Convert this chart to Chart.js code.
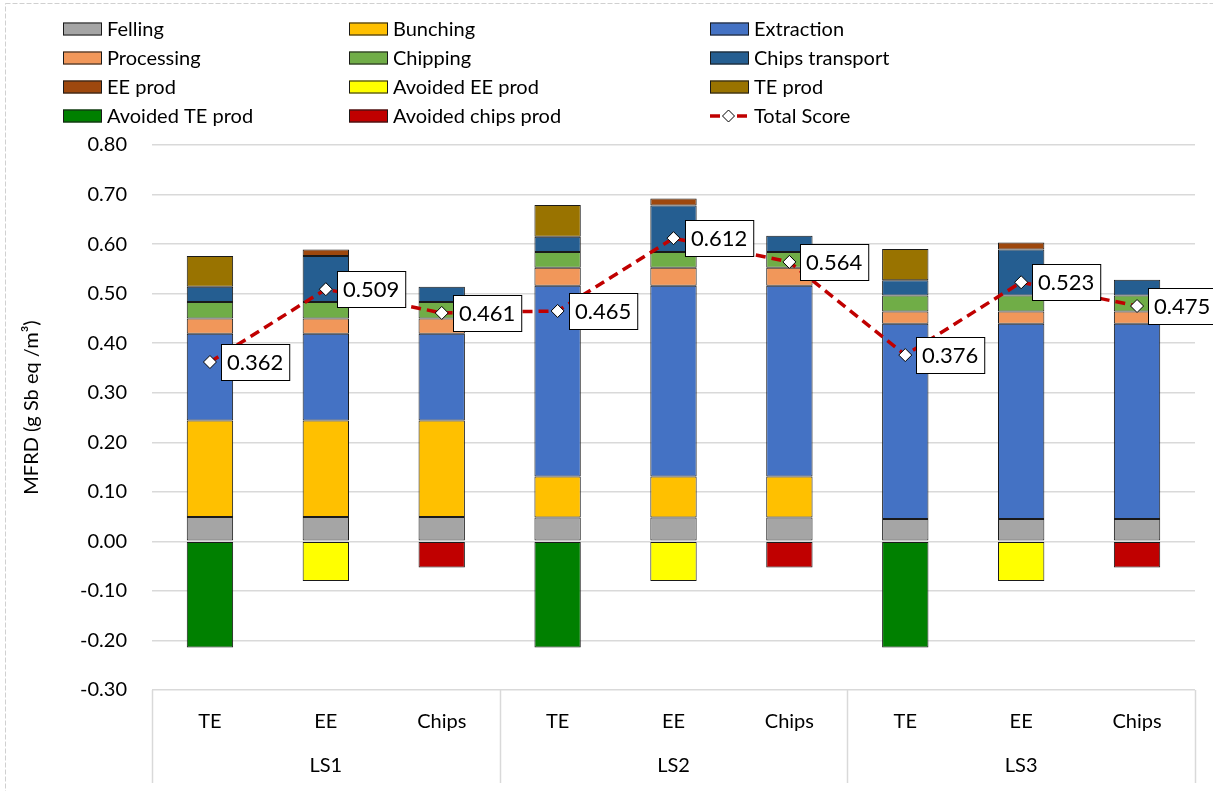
<!DOCTYPE html>
<html><head><meta charset="utf-8">
<script src="https://cdn.jsdelivr.net/npm/chart.js@4.4.1/dist/chart.umd.min.js"></script>
<style>html,body{margin:0;padding:0;background:#fff;}#wrap{width:1213px;height:791px;position:relative;}</style>
</head><body><div id="wrap"><canvas id="c" width="1213" height="791"></canvas></div>
<script>
const categories = ['TE','EE','Chips','TE','EE','Chips','TE','EE','Chips'];
const groups = ['LS1','LS2','LS3'];
const felling        = [0.049,0.049,0.049,0.048,0.048,0.048,0.045,0.045,0.045];
const bunching       = [0.195,0.195,0.195,0.083,0.083,0.083,null,null,null];
const extraction     = [0.175,0.175,0.175,0.385,0.385,0.385,0.394,0.394,0.394];
const processing     = [0.031,0.031,0.031,0.036,0.036,0.036,0.025,0.025,0.025];
const chipping       = [0.033,0.033,0.033,0.032,0.032,0.032,0.032,0.032,0.032];
const chipsTransport = [0.031,0.093,0.031,0.031,0.094,0.033,0.031,0.093,0.032];
const eeProd         = [null,0.013,null,null,0.014,null,null,0.014,null];
const avoidedEEProd  = [null,-0.080,null,null,-0.080,null,null,-0.080,null];
const teProd         = [0.062,null,null,0.064,null,null,0.063,null,null];
const avoidedTEProd  = [-0.214,null,null,-0.214,null,null,-0.214,null,null];
const avoidedChips   = [null,null,-0.053,null,null,-0.053,null,null,-0.053];
const totalScore     = [0.362,0.509,0.461,0.465,0.612,0.564,0.376,0.523,0.475];
const yMin = -0.3, yMax = 0.8, yStep = 0.1;

const FONT = 'Lato';
const bar = (label, data, color) => ({type:'bar', label, data, backgroundColor:color, borderColor:'#1a1a1a', borderWidth:1, borderSkipped:false, order:1, barPercentage:0.4, categoryPercentage:1});

const datasets = [
  bar('Felling', felling, '#A5A5A5'),
  bar('Bunching', bunching, '#FFC000'),
  bar('Extraction', extraction, '#4472C4'),
  bar('Processing', processing, '#F1975A'),
  bar('Chipping', chipping, '#70AD47'),
  bar('Chips transport', chipsTransport, '#255E91'),
  bar('EE prod', eeProd, '#9E480E'),
  bar('Avoided EE prod', avoidedEEProd, '#FFFF00'),
  bar('TE prod', teProd, '#997300'),
  bar('Avoided TE prod', avoidedTEProd, '#008000'),
  bar('Avoided chips prod', avoidedChips, '#C00000'),
  {type:'line', label:'Total Score', data: totalScore, stack:'total', order:0,
   borderColor:'#C00000', borderWidth:3.5, borderDash:[10,6], fill:false, tension:0,
   pointStyle:'rectRot', pointRadius:6.5, pointHoverRadius:6.5, pointBackgroundColor:'#fff', pointBorderColor:'#000', pointBorderWidth:1}
];

const frame = {
  id:'frame',
  beforeDraw(chart){
    const ctx = chart.ctx;
    ctx.save();
    ctx.strokeStyle = '#D0D0D0'; ctx.lineWidth = 1; ctx.setLineDash([5,2]);
    ctx.strokeRect(5.5, 3.5, 1220, 800);
    ctx.restore();
  }
};

const separators = {
  id:'separators',
  afterDraw(chart){
    const xs = chart.scales.x, ctx = chart.ctx, ca = chart.chartArea;
    const half = (xs.getPixelForValue(1) - xs.getPixelForValue(0)) / 2;
    ctx.save();
    ctx.strokeStyle = '#D9D9D9'; ctx.lineWidth = 1.5;
    for (let k = 0; k <= groups.length; k++) {
      const px = k < groups.length ? xs.getPixelForValue(k*3) - half : xs.getPixelForValue(categories.length-1) + half;
      ctx.beginPath(); ctx.moveTo(Math.round(px)+0.5, ca.bottom); ctx.lineTo(Math.round(px)+0.5, 783); ctx.stroke();
    }
    ctx.restore();
  }
};

const valueLabels = {
  id:'valueLabels',
  afterDatasetsDraw(chart){
    const idx = chart.data.datasets.findIndex(d => d.type === 'line');
    const meta = chart.getDatasetMeta(idx);
    const ctx = chart.ctx;
    ctx.save();
    ctx.font = '22px ' + FONT;
    ctx.textBaseline = 'middle';
    meta.data.forEach((pt, i) => {
      const txt = chart.data.datasets[idx].data[i].toFixed(3);
      const w = ctx.measureText(txt).width + 12, h = 36;
      const x = Math.round(pt.x + 11), y = Math.round(pt.y - h/2);
      ctx.fillStyle = '#fff'; ctx.fillRect(x, y, w, h);
      ctx.strokeStyle = '#000'; ctx.lineWidth = 1; ctx.strokeRect(x+0.5, y+0.5, w, h);
      ctx.fillStyle = '#000'; ctx.fillText(txt, x + 6, y + h/2 + 1);
    });
    ctx.restore();
  }
};

const gridLegend = {
  id:'gridLegend',
  afterDraw(chart){
    const ctx = chart.ctx;
    const cols = [63, 349, 710], rows = [29, 58, 87, 116];
    chart.data.datasets.forEach((ds, i) => {
      const x = cols[i % 3], y = rows[Math.floor(i / 3)];
      ctx.save();
      if (ds.type === 'line') {
        ctx.strokeStyle = ds.borderColor; ctx.lineWidth = 3.5;
        ctx.beginPath(); ctx.moveTo(710, y); ctx.lineTo(720, y); ctx.moveTo(737, y); ctx.lineTo(747, y); ctx.stroke();
        ctx.beginPath(); ctx.moveTo(728.5, y-6); ctx.lineTo(734.5, y); ctx.lineTo(728.5, y+6); ctx.lineTo(722.5, y); ctx.closePath();
        ctx.fillStyle = '#fff'; ctx.fill(); ctx.strokeStyle = '#000'; ctx.lineWidth = 1; ctx.stroke();
      } else {
        ctx.fillStyle = ds.backgroundColor; ctx.fillRect(x, y - 6.5, 39, 13);
        ctx.strokeStyle = '#1a1a1a'; ctx.lineWidth = 1; ctx.strokeRect(x + 0.5, y - 6, 38, 12);
      }
      ctx.fillStyle = '#000'; ctx.font = '20px ' + FONT; ctx.textBaseline = 'middle';
      ctx.fillText(ds.label, x + 44, y + 1);
      ctx.restore();
    });
  }
};

new Chart(document.getElementById('c'), {
  data: { labels: categories, datasets },
  options: {
    responsive:false, maintainAspectRatio:false, animation:false,
    layout:{ padding:{ top:145, right:18, bottom:0, left:0 } },
    plugins:{ legend:{display:false}, tooltip:{enabled:false} },
    scales:{
      x:{ type:'category', stacked:true, offset:true, weight:0,
          grid:{display:false}, border:{display:false},
          ticks:{ color:'#000', font:{family:FONT, size:20}, padding:12, maxRotation:0 },
          afterFit(s){ s.height = 50; } },
      x2:{ type:'category', labels: groups, position:'bottom', offset:true, weight:1,
          grid:{display:false}, border:{display:false},
          ticks:{ color:'#000', font:{family:FONT, size:20}, padding:6, maxRotation:0 },
          afterFit(s){ s.height = 51; } },
      y:{ stacked:true, min:yMin, max:yMax,
          border:{display:false},
          grid:{ color:'#D9D9D9', lineWidth:1.5, drawTicks:false },
          ticks:{ stepSize:yStep, color:'#000', font:{family:FONT, size:20}, padding:25,
                  callback:v => Number(v).toFixed(2) },
          title:{ display:true, text:'\u2002\u2002MFRD (g Sb eq /m³)', color:'#000', font:{family:FONT, size:20}, padding:{top:20, bottom:0} },
          afterFit(s){ s.width = 152; } }
    }
  },
  plugins:[frame, separators, valueLabels, gridLegend]
});
</script></body></html>
